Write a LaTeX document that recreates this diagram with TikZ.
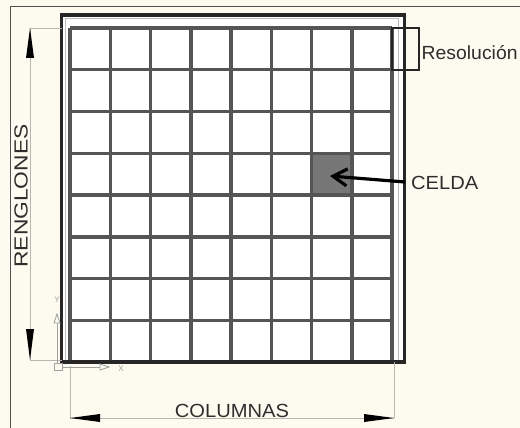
\documentclass[tikz,border=0pt]{standalone}
\usepackage{fontspec}
\setmainfont{Liberation Sans}
\usetikzlibrary{arrows.meta}
\definecolor{bgc}{HTML}{FDFBEF}
\definecolor{framec}{HTML}{262626}
\definecolor{gridc}{HTML}{555555}
\definecolor{dimc}{HTML}{B8B8B0}
\definecolor{txtc}{HTML}{2E2E2E}
\definecolor{cellc}{HTML}{777777}
\definecolor{ucsc}{HTML}{A0A0A0}
\tikzset{
  lbl/.style={text=txtc, inner sep=0pt, font=\fontsize{19}{21}\selectfont},
  dimline/.style={draw=dimc, line width=0.8pt},
}
\begin{document}
\begin{tikzpicture}[x=1pt,y=-1pt]
\useasboundingbox (0,0) rectangle (520,428);
\fill[bgc] (0,0) rectangle (520,428);
% page border
\draw[framec!80, line width=1.2pt] (10.5,428) -- (10.5,6.5) -- (520,6.5);
% white interior of the frame
\fill[white] (61,15) rectangle (404,362);
% celda
\fill[cellc] (311.5,153.25) rectangle (351.75,195);
% grid
\foreach \i in {0,...,8}{
  \draw[gridc, line width=3.5pt] ({70+\i*40.25},28) -- ({70+\i*40.25},362);
  \draw[gridc, line width=3.5pt] (70,{28+\i*41.75}) -- (392,{28+\i*41.75});
}
% inner thin rectangle
\draw[gridc!40, line width=1pt] (65.5,19) rectangle (398,362);
% outer frame
\draw[framec, line width=3.2pt] (61.5,15) rectangle (404.5,362);
% resolution box
\draw[framec, line width=1.3pt] (392,28) rectangle (419,70);
\node[lbl, anchor=west] (res) at (421.5,53) {\scalebox{1.02}[1]{Resolución}};
% celda arrow
\coordinate (cellpt) at (330,176);
\node[lbl, anchor=west] (celda) at (411,183) {\scalebox{1.06}[1]{CELDA}};
\draw[black, line width=3.2pt, -{Straight Barb[length=14pt,width=17pt,line width=3.2pt]}] (405,182) -- (cellpt);
% renglones dimension
\coordinate (rt) at (30,28);
\coordinate (rb) at (30,360);
\draw[dimline] (rt) -- (62,28);
\draw[dimline] (rb) -- (62,360);
\draw[dimline] (rt) -- (rb);
\fill[black] (rt) -- (26,58) -- (34,58) -- cycle;
\fill[black] (rb) -- (26,329) -- (34,329) -- cycle;
\node[lbl, rotate=90] (reng) at (21,196) {\scalebox{1.2}[1]{RENGLONES}};
% columnas dimension
\coordinate (cl) at (70,418);
\coordinate (cr) at (394,418);
\draw[dimline] (70,366) -- (cl);
\draw[dimline] (394,362) -- (cr);
\draw[dimline] (cl) -- (cr);
\fill[black] (cl) -- (100,414) -- (100,422) -- cycle;
\fill[black] (cr) -- (364,414) -- (364,422) -- cycle;
\node[lbl, anchor=south] (col) at (232,417.5) {\scalebox{1.06}[1]{COLUMNAS}};
% UCS icon
\draw[ucsc, line width=0.8pt] (54,363) rectangle (62,370);
\draw[ucsc, line width=0.8pt] (57,363) -- (57,323);
\draw[ucsc, line width=0.8pt] (54,323) -- (57,314) -- (60,323) -- cycle;
\draw[ucsc, line width=0.8pt] (62,367) -- (100,367);
\draw[ucsc, line width=0.8pt] (100,364) -- (109,367) -- (100,370) -- cycle;
\node[text=ucsc, font=\fontsize{8}{8}\selectfont, inner sep=0pt] (ylab) at (57,300) {Y};
\node[text=ucsc, font=\fontsize{8}{8}\selectfont, inner sep=0pt] (xlab) at (121,369) {X};
\end{tikzpicture}
\end{document}
